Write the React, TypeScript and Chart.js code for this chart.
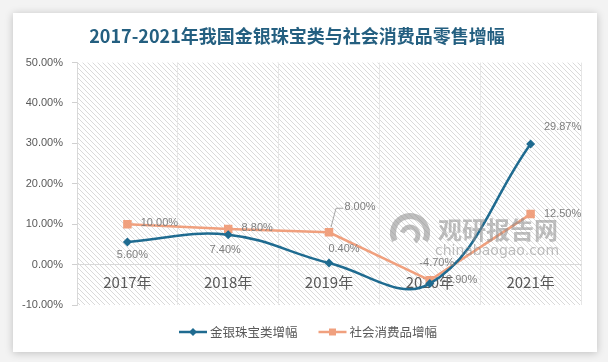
import { useEffect, useRef } from 'react';
import { Chart, registerables } from 'chart.js';

Chart.register(...registerables);

// ---------- data ----------
const titleText = '2017-2021年我国金银珠宝类与社会消费品零售增幅';
const categories = ['2017年', '2018年', '2019年', '2020年', '2021年'];
const seriesNames = ['金银珠宝类增幅', '社会消费品增幅'];
const jewelryGrowth = [5.6, 7.4, 0.4, -4.7, 29.87];
const retailGrowth = [10.0, 8.8, 8.0, -3.9, 12.5];
const yMin = -10;
const yMax = 50;
const yStep = 10;

// ---------- styles ----------
const CARD_W = 584;
const CARD_H = 339;
const jewelryColor = '#1f6b90';
const retailColor = '#f0a07e';
const labelColor = '#7f7f7f';
const axisTextColor = '#595959';
// label offsets relative to point (center of text)
const jewelryLabelOffsets = [[5, 13], [-3, 15], [15, -14], [7, -21], [32, -17]];
const retailLabelOffsets = [[32, -1], [29, -1], [31, -25], [30, 0], [32, 0]];

function makeHatch(): CanvasPattern | string {
  const c = document.createElement('canvas');
  const n = 5;
  c.width = n;
  c.height = n;
  const g = c.getContext('2d');
  if (!g) return '#ffffff';
  const img = g.createImageData(n, n);
  for (let y = 0; y < n; y++) {
    for (let x = 0; x < n; x++) {
      const i = (y * n + x) * 4;
      const on = (x - y + n) % n === 0;
      const v = on ? 218 : 255;
      img.data[i] = v;
      img.data[i + 1] = v;
      img.data[i + 2] = v;
      img.data[i + 3] = 255;
    }
  }
  g.putImageData(img, 0, 0);
  return g.createPattern(c, 'repeat') || '#ffffff';
}

const hatchPlugin = {
  id: 'hatchBg',
  beforeDraw(chart: any) {
    const { ctx, chartArea } = chart;
    if (!chartArea) return;
    ctx.save();
    ctx.fillStyle = makeHatch();
    ctx.fillRect(chartArea.left, chartArea.top, chartArea.right - chartArea.left, chartArea.bottom - chartArea.top);
    ctx.restore();
  },
};

const pointLabelPlugin = {
  id: 'pointLabels',
  afterDatasetsDraw(chart: any) {
    const ctx = chart.ctx;
    ctx.save();
    ctx.font = '11px "Liberation Sans", Arial, sans-serif';
    ctx.fillStyle = labelColor;
    ctx.textAlign = 'center';
    ctx.textBaseline = 'middle';
    chart.data.datasets.forEach((ds: any, di: number) => {
      const meta = chart.getDatasetMeta(di);
      const offs = di === 0 ? jewelryLabelOffsets : retailLabelOffsets;
      meta.data.forEach((pt: any, i: number) => {
        const v = ds.data[i] as number;
        ctx.fillText(v.toFixed(2) + '%', pt.x + offs[i][0], pt.y + offs[i][1]);
      });
    });
    // leader line for retail 2019 label
    const m = chart.getDatasetMeta(1);
    const p = m.data[2];
    if (p) {
      ctx.strokeStyle = '#a6a6a6';
      ctx.lineWidth = 1;
      ctx.beginPath();
      ctx.moveTo(p.x + 2, p.y - 5);
      ctx.lineTo(p.x + 7, p.y - 24);
      ctx.lineTo(p.x + 14, p.y - 24);
      ctx.stroke();
    }
    ctx.restore();
  },
};

const legendPlugin = {
  id: 'lineLegend',
  afterDraw(chart: any) {
    const ctx = chart.ctx;
    ctx.save();
    ctx.font = '12.5px "Noto Sans CJK SC", sans-serif';
    ctx.textBaseline = 'middle';
    ctx.textAlign = 'left';
    const items = chart.data.datasets.map((ds: any) => ({
      label: ds.label as string,
      color: ds.borderColor as string,
      style: ds.pointStyle as string,
    }));
    const lineW = 28;
    const gap = 3;
    const itemGap = 21;
    const widths = items.map((it: any) => lineW + gap + ctx.measureText(it.label).width);
    const total = widths.reduce((a: number, b: number) => a + b, 0) + itemGap * (items.length - 1);
    let x = chart.width / 2 - total / 2 + 3;
    const y = 319;
    items.forEach((it: any, i: number) => {
      ctx.strokeStyle = it.color;
      ctx.lineWidth = 2.5;
      ctx.beginPath();
      ctx.moveTo(x, y);
      ctx.lineTo(x + lineW, y);
      ctx.stroke();
      ctx.fillStyle = it.color;
      const cx = x + lineW / 2;
      ctx.beginPath();
      if (it.style === 'rectRot') {
        ctx.moveTo(cx, y - 4);
        ctx.lineTo(cx + 4, y);
        ctx.lineTo(cx, y + 4);
        ctx.lineTo(cx - 4, y);
        ctx.closePath();
      } else {
        ctx.rect(cx - 3.5, y - 3.5, 7, 7);
      }
      ctx.fill();
      ctx.fillStyle = axisTextColor;
      ctx.fillText(it.label, x + lineW + gap, y);
      x += widths[i] + itemGap;
    });
    ctx.restore();
  },
};

const watermarkPlugin = {
  id: 'watermark',
  afterDraw(chart: any) {
    const ctx = chart.ctx;
    ctx.save();
    ctx.globalAlpha = 0.55;
    ctx.fillStyle = '#8a8a8a';
    ctx.strokeStyle = '#8a8a8a';
    ctx.textAlign = 'center';
    ctx.textBaseline = 'middle';
    ctx.font = 'bold 24px "Noto Sans CJK SC", sans-serif';
    ctx.fillText('观研报告网', 485, 217);
    ctx.font = '14px "DejaVu Sans", sans-serif';
    ctx.fillText('chinabaogao.com', 484, 238);
    ctx.lineWidth = 6;
    ctx.beginPath();
    ctx.arc(397, 220, 17, Math.PI * 0.85, Math.PI * 2.15);
    ctx.stroke();
    ctx.lineWidth = 5;
    ctx.beginPath();
    ctx.arc(397, 222, 8, Math.PI * 1.1, Math.PI * 2.3);
    ctx.stroke();
    ctx.restore();
  },
};

export default function App() {
  const canvasRef = useRef<HTMLCanvasElement | null>(null);

  useEffect(() => {
    document.body.style.margin = '0';
    const canvas = canvasRef.current;
    if (!canvas) return;
    const chart = new Chart(canvas, {
      type: 'line',
      data: {
        labels: categories,
        datasets: [
          {
            label: seriesNames[0],
            data: jewelryGrowth,
            borderColor: jewelryColor,
            backgroundColor: jewelryColor,
            borderWidth: 2.5,
            tension: 0.4,
            pointStyle: 'rectRot',
            pointRadius: 4.5,
            pointHoverRadius: 4.5,
            pointBorderWidth: 0,
            fill: false,
          },
          {
            label: seriesNames[1],
            data: retailGrowth,
            borderColor: retailColor,
            backgroundColor: retailColor,
            borderWidth: 2.5,
            tension: 0,
            pointStyle: 'rect',
            pointRadius: 6,
            pointHoverRadius: 6,
            pointBorderWidth: 0,
            fill: false,
          },
        ],
      },
      options: {
        responsive: false,
        animation: false,
        events: [],
        layout: { padding: { left: 0, right: 16, top: 0, bottom: 47 } },
        plugins: {
          legend: { display: false },
          tooltip: { enabled: false },
          title: {
            display: true,
            text: titleText,
            color: '#245f80',
            font: { family: '"Noto Sans CJK SC", sans-serif', size: 18, weight: 'bold' },
            padding: { top: 12, bottom: 16 },
          },
        },
        scales: {
          x: {
            type: 'category',
            position: { y: 0 } as any,
            offset: true,
            grid: {
              display: true,
              offset: true,
              color: '#e6e6e6',
              drawTicks: false,
            },
            border: { display: true, color: '#d9d9d9', width: 1 },
            ticks: {
              color: axisTextColor,
              font: { family: '"Noto Sans CJK SC", sans-serif', size: 15 },
              padding: 9,
              maxRotation: 0,
              autoSkip: false,
            },
          },
          y: {
            type: 'linear',
            min: yMin,
            max: yMax,
            afterFit: (scale: any) => {
              scale.width = 64;
            },
            grid: {
              display: true,
              drawOnChartArea: false,
              drawTicks: true,
              tickLength: 5,
              tickColor: '#d0d0d0',
            },
            border: { display: true, color: '#d9d9d9', width: 1 },
            ticks: {
              stepSize: yStep,
              color: axisTextColor,
              font: { family: '"Liberation Sans", Arial, sans-serif', size: 11 },
              padding: 9,
              callback: (v: any) => Number(v).toFixed(2) + '%',
            },
          },
        },
      },
      plugins: [hatchPlugin, pointLabelPlugin, legendPlugin, watermarkPlugin],
    });
    return () => chart.destroy();
  }, []);

  return (
    <div
      style={{
        position: 'fixed',
        left: 0,
        top: 0,
        width: 608,
        height: 362,
        background: '#f3f3f3',
      }}
    >
      <div
        style={{
          position: 'absolute',
          left: 13,
          top: 13,
          width: CARD_W,
          height: CARD_H,
          background: '#ffffff',
          boxShadow: '0 1px 8px rgba(0,0,0,0.22)',
        }}
      >
        <canvas ref={canvasRef} width={CARD_W} height={CARD_H} style={{ display: 'block' }} />
      </div>
    </div>
  );
}
